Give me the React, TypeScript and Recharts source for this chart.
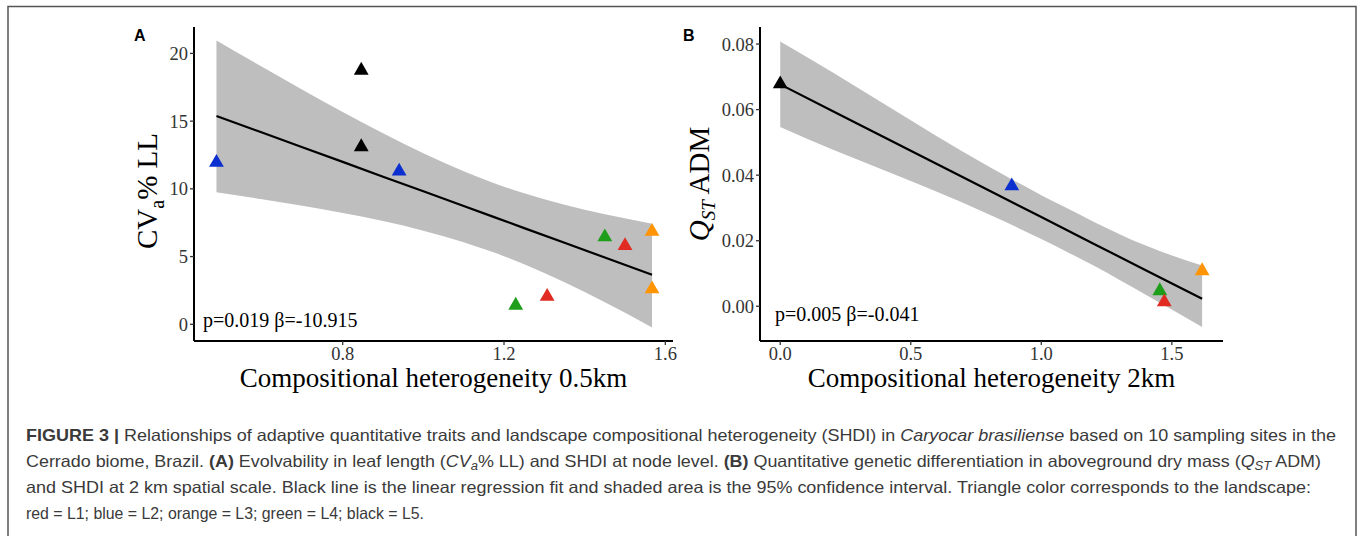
import React from "react";
import { ComposedChart, Area, Line, Scatter, XAxis, YAxis } from "recharts";

// landscape -> triangle colour
const landColor: Record<string, string> = {
  L1: "#E02A22",
  L2: "#0C2FD0",
  L3: "#FF9505",
  L4: "#1E9E1A",
  L5: "#000000",
};

// panel A: SHDI 0.5km vs CVa% LL
const heteroA = [0.487, 0.846, 0.846, 0.94, 1.229, 1.307, 1.45, 1.5, 1.567, 1.567];
const cvA = [11.95, 18.75, 13.1, 11.3, 1.4, 2.05, 6.45, 5.8, 6.85, 2.6];
const landA = ["L2", "L5", "L5", "L2", "L4", "L1", "L4", "L1", "L3", "L3"];

const bandXA = [0.487, 0.6, 0.7, 0.8, 0.9, 1.0, 1.1, 1.174, 1.25, 1.35, 1.45, 1.567];
const bandLoA = [9.75, 9.24, 8.75, 8.21, 7.62, 6.91, 6.06, 5.31, 4.43, 3.1, 1.62, -0.23];
const bandHiA = [20.95, 19.01, 17.32, 15.67, 14.1, 12.63, 11.3, 10.44, 9.67, 8.82, 8.12, 7.43];
const fitA = [15.38, 14.16, 13.07, 11.99, 10.9, 9.82, 8.73, 7.93, 7.1, 6.02, 4.93, 3.66];

const xTicksA = [0.8, 1.2, 1.6];
const yTicksA = [0, 5, 10, 15, 20];

// panel B: SHDI 2km vs QST ADM
const heteroB = [0.0, 0.887, 1.454, 1.471, 1.616];
const qstB = [0.0678, 0.0367, 0.0047, 0.0013, 0.0108];
const landB = ["L5", "L2", "L4", "L1", "L3"];

const bandXB = [0, 0.2, 0.4, 0.6, 0.8, 1.0, 1.086, 1.2, 1.4, 1.616];
const bandLoB = [0.0547, 0.0478, 0.0414, 0.0349, 0.028, 0.0205, 0.0171, 0.0124, 0.0035, -0.0063];
const bandHiB = [0.0808, 0.0714, 0.0616, 0.0519, 0.0426, 0.0339, 0.0304, 0.0258, 0.0185, 0.0124];
const fitB = [0.0677, 0.0596, 0.0515, 0.0434, 0.0353, 0.0272, 0.0237, 0.0191, 0.011, 0.0023];

const xTicksB = [0, 0.5, 1.0, 1.5];
const yTicksB = [0, 0.02, 0.04, 0.06, 0.08];

const serif = "Liberation Serif, Times New Roman, serif";
const sans = "Liberation Sans, Arial, Helvetica, sans-serif";

const rowsA = bandXA.map((x, i) => ({ x, band: [bandLoA[i], bandHiA[i]], fit: fitA[i] }));
const ptsA = heteroA.map((x, i) => ({ x, y: cvA[i], land: landA[i] }));
const rowsB = bandXB.map((x, i) => ({ x, band: [bandLoB[i], bandHiB[i]], fit: fitB[i] }));
const ptsB = heteroB.map((x, i) => ({ x, y: qstB[i], land: landB[i] }));

const Tri = (props: any) => {
  const { cx, cy, payload } = props;
  if (cx == null || cy == null) return null;
  const hw = 7.4;
  const d = `M${cx},${cy - 8.5}L${cx + hw},${cy + 4.3}L${cx - hw},${cy + 4.3}Z`;
  return <path d={d} fill={landColor[payload.land]} />;
};

const tickStyle = { fontSize: 18.5, fontFamily: serif, fill: "#333" };
const axisLine = { stroke: "#000", strokeWidth: 2 };
const tickLine = { stroke: "#333", strokeWidth: 1.3 };

type PanelProps = {
  rows: any[];
  pts: any[];
  xDomain: [number, number];
  yDomain: [number, number];
  xTicks: number[];
  yTicks: number[];
  xFmt: (v: number) => string;
  yFmt: (v: number) => string;
  yWidth: number;
  right: number;
};

const Panel = ({ rows, pts, xDomain, yDomain, xTicks, yTicks, xFmt, yFmt, yWidth, right }: PanelProps) => (
  <ComposedChart width={700} height={400} data={rows} margin={{ top: 27, right, bottom: 0, left: 0 }}>
    <XAxis
      type="number"
      dataKey="x"
      domain={xDomain}
      ticks={xTicks}
      allowDataOverflow
      tickFormatter={xFmt}
      height={59}
      tick={tickStyle}
      tickSize={4}
      tickMargin={2}
      axisLine={axisLine}
      tickLine={tickLine}
    />
    <YAxis
      type="number"
      domain={yDomain}
      ticks={yTicks}
      allowDataOverflow
      tickFormatter={yFmt}
      width={yWidth}
      tick={tickStyle}
      tickSize={4}
      tickMargin={2}
      axisLine={axisLine}
      tickLine={tickLine}
    />
    <Area
      dataKey="band"
      type="monotone"
      fill="#BEBEBE"
      fillOpacity={1}
      stroke="none"
      isAnimationActive={false}
    />
    <Line dataKey="fit" type="linear" stroke="#000" strokeWidth={2.2} dot={false} isAnimationActive={false} />
    <Scatter data={pts} dataKey="y" shape={Tri} isAnimationActive={false} />
  </ComposedChart>
);

const captionStyle = { fontFamily: sans, fontSize: 16.5, fill: "#3a3a3a" };

export default function App() {
  return (
    <div style={{ position: "absolute", left: 0, top: 0, width: 1360, height: 536, background: "#fff", overflow: "hidden" }}>
      <div style={{ position: "absolute", left: 0, top: 0 }}>
        <Panel
          rows={rowsA}
          pts={ptsA}
          xDomain={[0.4313, 1.619]}
          yDomain={[-1.234, 21.95]}
          xTicks={xTicksA}
          yTicks={yTicksA}
          xFmt={(v) => v.toFixed(1)}
          yFmt={(v) => String(v)}
          yWidth={194}
          right={27}
        />
      </div>
      <div style={{ position: "absolute", left: 560, top: 0 }}>
        <Panel
          rows={rowsB}
          pts={ptsB}
          xDomain={[-0.0775, 1.696]}
          yDomain={[-0.0106, 0.0852]}
          xTicks={xTicksB}
          yTicks={yTicksB}
          xFmt={(v) => v.toFixed(1)}
          yFmt={(v) => v.toFixed(2)}
          yWidth={200}
          right={37}
        />
      </div>
      <svg width={1360} height={536} style={{ position: "absolute", left: 0, top: 0, pointerEvents: "none" }}>
        <path d="M8,560V6.5H1356V560" fill="none" stroke="#555" strokeWidth={1.5} />

        <text x={134} y={40.5} fontFamily={sans} fontWeight="bold" fontSize={16}>A</text>
        <text x={683} y={40.5} fontFamily={sans} fontWeight="bold" fontSize={16}>B</text>

        <text x={157} y={191} transform="rotate(-90 157 191)" textAnchor="middle" fontFamily={serif} fontSize={29}>
          CV<tspan fontSize={20} dy={7}>a</tspan>
          <tspan dy={-7}>% LL</tspan>
        </text>
        <text x={709} y={184} transform="rotate(-90 709 184)" textAnchor="middle" fontFamily={serif} fontSize={29}>
          <tspan fontStyle="italic">Q</tspan>
          <tspan fontStyle="italic" fontSize={19} dy={6}>ST</tspan>
          <tspan dy={-6}> ADM</tspan>
        </text>

        <text x={433.5} y={387} textAnchor="middle" fontFamily={serif} fontSize={27}>Compositional heterogeneity 0.5km</text>
        <text x={991.5} y={387} textAnchor="middle" fontFamily={serif} fontSize={27}>Compositional heterogeneity 2km</text>

        <text x={203} y={327} fontFamily={serif} fontSize={20}>p=0.019 β=-10.915</text>
        <text x={775} y={321} fontFamily={serif} fontSize={20}>p=0.005 β=-0.041</text>

        <text x={26} y={441} {...captionStyle} textLength={1310} lengthAdjust="spacingAndGlyphs">
          <tspan fontWeight="bold">FIGURE 3 | </tspan>
          Relationships of adaptive quantitative traits and landscape compositional heterogeneity (SHDI) in{" "}
          <tspan fontStyle="italic">Caryocar brasiliense</tspan> based on 10 sampling sites in the
        </text>
        <text x={26} y={467} {...captionStyle} textLength={1295} lengthAdjust="spacingAndGlyphs">
          Cerrado biome, Brazil. <tspan fontWeight="bold">(A)</tspan> Evolvability in leaf length (
          <tspan fontStyle="italic">CV</tspan>
          <tspan fontStyle="italic" fontSize={12} dy={3}>a</tspan>
          <tspan dy={-3}>% LL) and SHDI at node level. </tspan>
          <tspan fontWeight="bold">(B)</tspan> Quantitative genetic differentiation in aboveground dry mass (
          <tspan fontStyle="italic">Q</tspan>
          <tspan fontStyle="italic" fontSize={12} dy={3}>ST</tspan>
          <tspan dy={-3}> ADM)</tspan>
        </text>
        <text x={26} y={493} {...captionStyle} textLength={1285} lengthAdjust="spacingAndGlyphs">
          and SHDI at 2 km spatial scale. Black line is the linear regression fit and shaded area is the 95% confidence interval. Triangle color corresponds to the landscape:
        </text>
        <text x={26} y={519} {...captionStyle} textLength={398} lengthAdjust="spacingAndGlyphs">
          red = L1; blue = L2; orange = L3; green = L4; black = L5.
        </text>
      </svg>
    </div>
  );
}
